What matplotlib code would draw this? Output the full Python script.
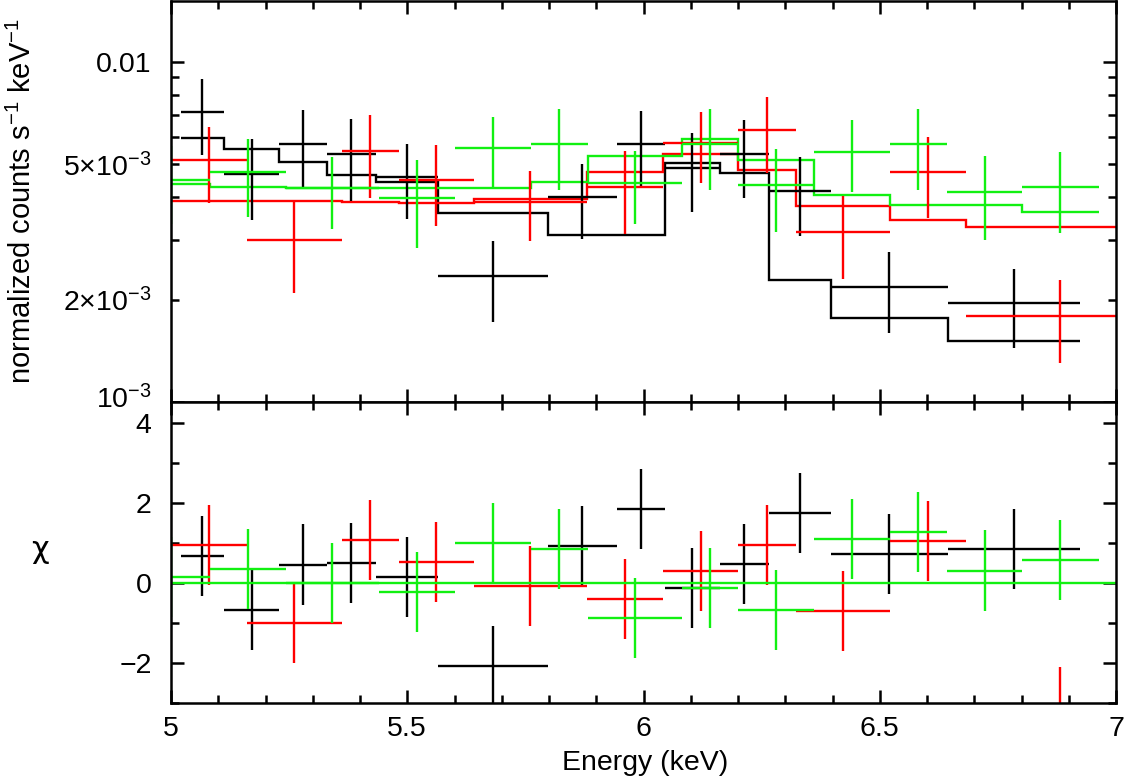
import numpy as np
import matplotlib
matplotlib.use("Agg")
import matplotlib.pyplot as plt
import matplotlib.transforms as mtransforms
from matplotlib.ticker import FixedLocator, FixedFormatter, MultipleLocator

plt.rcParams['font.family'] = ['Liberation Sans', 'DejaVu Sans']
plt.rcParams['mathtext.fontset'] = 'custom'
plt.rcParams['mathtext.rm'] = 'Liberation Sans'
plt.rcParams['mathtext.it'] = 'Liberation Sans:italic'
plt.rcParams['mathtext.bf'] = 'Liberation Sans:bold'

# -----------------------------
# datos (3 espectros)
# -----------------------------
# bordes de los canales (keV)
edges_k = [5.021, 5.112, 5.229, 5.331, 5.433, 5.565, 5.797, 5.943, 6.046, 6.161, 6.265, 6.396, 6.644, 6.924]
edges_r = [5.0, 5.16, 5.361, 5.482, 5.641, 5.880, 6.041, 6.201, 6.323, 6.522, 6.683, 7.081]
edges_g = [4.918, 5.082, 5.243, 5.44, 5.602, 5.761, 5.882, 6.082, 6.201, 6.36, 6.522, 6.642, 6.802, 6.963]

# cuentas normalizadas (1e-3 counts/s/keV)
data_k = [7.11, 4.68, 5.74, 5.35, 4.6, 2.35, 4.02, 5.74, 4.89, 5.37, 4.17, 2.18, 1.95]
err_k = [1.78, 1.25, 1.5, 1.45, 1.15, 0.63, 1.0, 1.45, 1.28, 1.4, 1.1, 0.58, 0.51]
model_k = [5.96, 5.53, 5.09, 4.66, 4.42, 3.6, 3.1, 3.1, 5.06, 4.71, 2.29, 1.77, 1.51]

data_r = [5.15, 2.99, 5.48, 4.5, 3.88, 4.3, 5.76, 6.31, 3.17, 4.74, 1.79]
err_r = [1.3, 0.9, 1.5, 1.2, 0.91, 1.18, 1.35, 1.6, 0.87, 1.27, 0.49]
model_r = [3.91, 3.9, 3.86, 3.85, 3.94, 4.73, 5.35, 4.81, 3.78, 3.44, 3.28]

data_g = [4.5, 4.73, 4.25, 3.99, 5.57, 5.74, 4.4, 5.74, 4.35, 5.44, 5.73, 4.14, 4.28]
err_g = [1.17, 1.22, 1.02, 1.16, 1.31, 1.53, 1.07, 1.53, 1.18, 1.3, 1.53, 1.14, 1.14]
model_g = [4.38, 4.3, 4.25, 4.25, 4.25, 4.44, 5.29, 5.94, 5.15, 4.06, 3.8, 3.8, 3.63]

# residuos (chi)
chi_k = [0.675, -0.68, 0.46, 0.49, 0.16, -2.075, 0.93, 1.85, -0.13, 0.475, 1.74, 0.72, 0.85]
chi_r = [0.95, -0.99, 1.075, 0.53, -0.075, -0.41, 0.3, 0.95, -0.69, 1.04, -3.09]
chi_g = [0.16, 0.35, 0.0, -0.23, 0.99, 0.85, -0.88, -0.13, -0.675, 1.09, 1.28, 0.31, 0.575]

colores = ['#000000', '#ff0000', '#11f011']
lw = 1.7

fig = plt.figure(figsize=(11.25, 7.8), dpi=100)
ax1 = fig.add_axes([0.152, 0.4846, 0.84, 0.5141])
ax2 = fig.add_axes([0.152, 0.0987, 0.84, 0.3859], sharex=ax1)

series = [
    (edges_k, data_k, err_k, model_k, chi_k),
    (edges_r, data_r, err_r, model_r, chi_r),
    (edges_g, data_g, err_g, model_g, chi_g),
]

for (edges, d, e, m, c), col in zip(series, colores):
    edges = np.array(edges)
    cen = (edges[:-1] + edges[1:]) / 2
    half = np.diff(edges) / 2
    ax1.errorbar(cen, np.array(d) * 1e-3, xerr=half, yerr=np.array(e) * 1e-3,
                 fmt='none', ecolor=col, elinewidth=lw, capsize=0)
    ax1.stairs(np.array(m) * 1e-3, edges, baseline=None, color=col, lw=lw)
    ax2.errorbar(cen, c, xerr=half, yerr=1.0,
                 fmt='none', ecolor=col, elinewidth=lw, capsize=0)

ax2.axhline(0, color=colores[2], lw=lw)

# panel superior
ax1.set_yscale('log')
ax1.set_ylim(1e-3, 0.0151)
ax1.set_xlim(5, 7)
ax1.yaxis.set_major_locator(FixedLocator([1e-3, 1e-2]))
ax1.yaxis.set_major_formatter(FixedFormatter([r'$10^{-3}$', '0.01']))
ax1.yaxis.set_minor_locator(FixedLocator([k * 1e-3 for k in range(2, 10)]))
ax1.yaxis.set_minor_formatter(FixedFormatter([r'$2{\times}10^{-3}$', '', '',
                                              r'$5{\times}10^{-3}$', '', '', '', '']))
plt.setp(ax1.get_xticklabels(), visible=False)

# panel inferior
ax2.set_ylim(-3, 4.52)
ax2.yaxis.set_major_locator(FixedLocator([-2, 0, 2, 4]))
ax2.yaxis.set_minor_locator(MultipleLocator(1))
ax2.xaxis.set_major_locator(FixedLocator([5, 5.5, 6, 6.5, 7]))
ax2.xaxis.set_major_formatter(FixedFormatter(['5', '5.5', '6', '6.5', '7']))
ax2.xaxis.set_minor_locator(MultipleLocator(0.1))

for ax in (ax1, ax2):
    for s in ax.spines.values():
        s.set_linewidth(1.8)
    ax.tick_params(which='both', direction='in', top=True, right=True, width=1.8,
                   labelsize=20.5)
    ax.tick_params(which='major', length=9.5)
    ax.tick_params(which='minor', length=5.5)
    ax.tick_params(axis='y', which='both', pad=14)
    ax.tick_params(axis='x', which='both', pad=9)

# subir un poco la etiqueta 10^-3 para que no choque con el "4"
fig.canvas.draw()
lab = ax1.yaxis.get_majorticklabels()[0]
lab.set_transform(lab.get_transform() + mtransforms.ScaledTranslation(0, 4 / 72, fig.dpi_scale_trans))

fig.text(22 / 1125, 1 - 201 / 780, r'normalized counts s$^{-1}$ keV$^{-1}$',
         rotation=90, ha='center', va='center', fontsize=21)
fig.text(40 / 1125, 1 - 550 / 780, 'χ', ha='center', va='center', fontsize=22,
         family='DejaVu Sans')
fig.text(645 / 1125, 1 - 763 / 780, 'Energy (keV)', ha='center', va='center', fontsize=20.5)

fig.savefig('out.png', dpi=100)
